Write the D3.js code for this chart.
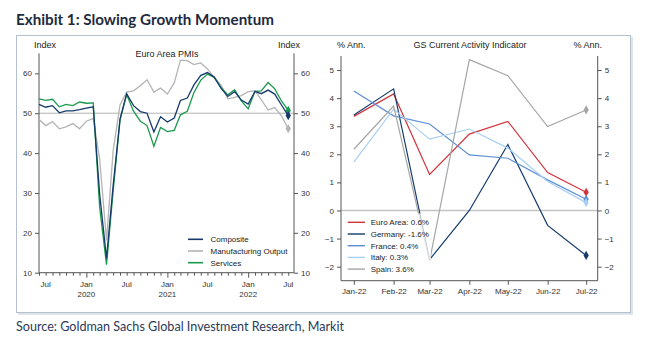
<!DOCTYPE html>
<html><head><meta charset="utf-8">
<script src="https://cdn.jsdelivr.net/npm/d3@7"></script>
<style>body{margin:0;background:#fff}svg{display:block}</style>
</head><body><div id="c"></div>
<script>
// ---------- data ----------
const pmiStart = [2019, 5]; // Jun 2019 (month index 0-based)
const composite = [52.2,51.5,51.9,50.1,50.6,50.6,50.9, 51.3,51.6,29.7,13.6,31.9,48.5,54.9,51.9,50.4,50.0,45.3,49.1, 47.8,48.8,53.2,53.8,57.1,59.5,60.2,59.0,56.2,54.2,55.4,53.3, 52.3,55.5,54.9,55.8,54.8,52.0,49.4];
const mfgOutput = [48.5,46.9,47.9,46.1,46.6,47.4,46.1, 48.0,48.7,38.5,18.1,40.6,52.1,55.3,55.6,56.9,58.4,55.3,56.3, 54.8,57.6,63.3,63.2,62.2,62.6,61.1,59.0,57.0,53.6,54.0,54.4, 55.4,55.6,53.4,50.8,51.4,49.3,46.1];
const services = [53.6,53.2,53.5,51.6,52.2,51.9,52.8, 52.5,52.6,26.4,12.0,30.5,48.3,54.7,50.5,48.0,46.9,41.7,46.4, 45.4,45.7,49.6,50.5,55.2,58.3,59.8,59.0,56.4,54.6,55.9,53.1, 51.1,55.5,55.6,57.7,56.1,53.0,50.7];
const pmiTicks = [10,20,30,40,50,60];

const caiMonths = ["Jan-22","Feb-22","Mar-22","Apr-22","May-22","Jun-22","Jul-22"];
const euroArea = [3.35,4.15,1.28,2.72,3.17,1.35,0.65];
const germany  = [3.40,4.33,-1.75,0.0,2.35,-0.53,-1.60];
const france   = [4.25,3.37,3.08,1.98,1.86,1.09,0.40];
const italy    = [1.72,3.61,2.54,2.90,2.22,1.03,0.28];
const spain    = [2.18,3.72,-1.80,5.37,4.80,2.99,3.58];
const caiLabels = ["Euro Area: 0.6%","Germany: -1.6%","France: 0.4%","Italy: 0.3%","Spain: 3.6%"];
const caiTicks = [-2,-1,0,1,2,3,4,5];

// ---------- setup ----------
const W=652,H=357;
const svg=d3.select("#c").append("svg").attr("width",W).attr("height",H)
  .style("font-family","'Liberation Sans',Arial,sans-serif");
svg.append("rect").attr("width",W).attr("height",H).attr("fill","#fff");

// title
svg.append("text").attr("x",16).attr("y",25).text("Exhibit 1: Slowing Growth Momentum")
  .attr("font-family","Lato,'Open Sans',sans-serif").attr("font-weight","bold").attr("font-size",16)
  .attr("fill","#1e2a40").attr("textLength",258).attr("lengthAdjust","spacingAndGlyphs");

// frame with shadow
svg.append("rect").attr("x",18).attr("y",37).attr("width",615).attr("height",278).attr("fill","#c9d1dc").attr("opacity",0.6);
svg.append("rect").attr("x",16.5).attr("y",35.5).attr("width",614).attr("height",277).attr("fill","#fff").attr("stroke","#b4c0cf").attr("stroke-width",1);

// source
svg.append("text").attr("x",16).attr("y",331).text("Source: Goldman Sachs Global Investment Research, Markit")
  .attr("font-family","Lato,'Open Sans',sans-serif").attr("font-size",13)
  .attr("fill","#2a3a58").attr("textLength",328).attr("lengthAdjust","spacingAndGlyphs");

const axisCol="#555", txtCol="#333";

// ---------- left chart ----------
const L=svg.append("g");
const x1=d3.scaleTime().domain([new Date(2019,5,1),new Date(2022,6,27)]).range([39,294]);
const y1=d3.scaleLinear().domain([10,65]).range([272.7,53.4]);
const dates1=composite.map((d,i)=>new Date(pmiStart[0],pmiStart[1]+i,1));

// 50 line
L.append("line").attr("x1",39).attr("x2",294).attr("y1",y1(50)).attr("y2",y1(50)).attr("stroke","#b3b3b3").attr("stroke-width",1);

const axL=L.append("g").attr("transform","translate(39,0)").call(d3.axisLeft(y1).tickValues(pmiTicks).tickSize(4).tickPadding(3));
const axR=L.append("g").attr("transform","translate(294,0)").call(d3.axisRight(y1).tickValues(pmiTicks).tickSize(4).tickPadding(3));
// x axis with monthly ticks
const months1=d3.timeMonth.range(new Date(2019,5,1),new Date(2022,7,1));
const axB=L.append("g").attr("transform",`translate(0,${y1(10)})`)
  .call(d3.axisBottom(x1).tickValues(months1).tickSize(3).tickFormat(d=>""));
axB.selectAll(".tick line").attr("y2",d=>d.getMonth()===0?5:3);
[axL,axR,axB].forEach(a=>{a.selectAll("path,line").attr("stroke",axisCol);a.selectAll("text").attr("fill",txtCol).attr("font-size",8).attr("font-family","'Liberation Sans',Arial,sans-serif");});
axB.select(".domain").attr("d",`M39,0H294`);
axL.select(".domain").attr("d",`M0,${y1(65)}V${y1(10)}`);
axR.select(".domain").attr("d",`M0,${y1(65)}V${y1(10)}`);
// month labels
const lab1=months1.filter(d=>d.getMonth()===0||d.getMonth()===6);
L.selectAll(".ml").data(lab1).enter().append("text").attr("x",d=>x1(d)).attr("y",286.5)
  .attr("text-anchor","middle").attr("font-size",8).attr("fill",txtCol).text(d=>d.getMonth()===0?"Jan":"Jul");
L.selectAll(".yl").data(lab1.filter(d=>d.getMonth()===0)).enter().append("text").attr("x",d=>x1(d)).attr("y",296.5)
  .attr("text-anchor","middle").attr("font-size",8).attr("fill",txtCol).text(d=>d.getFullYear());

L.append("text").attr("x",34).attr("y",48).attr("font-size",9).attr("fill","#222").text("Index");
L.append("text").attr("x",300).attr("y",48).attr("text-anchor","end").attr("font-size",9).attr("fill","#222").text("Index");
L.append("text").attr("x",167).attr("y",57).attr("text-anchor","middle").attr("font-size",9).attr("fill","#222").text("Euro Area PMIs");

const ser1=[{v:mfgOutput,c:"#b4b4b4",n:"Manufacturing Output"},{v:services,c:"#1b9a4e",n:"Services"},{v:composite,c:"#163a6b",n:"Composite"}];
const line1=d3.line().x((d,i)=>x1(dates1[i])).y(d=>y1(d));
ser1.forEach(s=>{
  L.append("path").datum(s.v).attr("d",line1).attr("fill","none").attr("stroke",s.c).attr("stroke-width",1.3);
  const n=s.v.length-1;
  L.append("path").attr("d",d3.symbol(d3.symbolDiamond,24)()).attr("transform",`translate(${x1(dates1[n])},${y1(s.v[n])})`).attr("fill",s.c);
});
// legend left
const leg1=[{c:"#163a6b",n:"Composite"},{c:"#b4b4b4",n:"Manufacturing Output"},{c:"#1b9a4e",n:"Services"}];
leg1.forEach((d,i)=>{
  const yy=239.3+i*11.7;
  L.append("line").attr("x1",188).attr("x2",203).attr("y1",yy).attr("y2",yy).attr("stroke",d.c).attr("stroke-width",1.6);
  L.append("text").attr("x",210.5).attr("y",yy+3).attr("font-size",8).attr("fill","#222").text(d.n);
});

// ---------- right chart ----------
const R=svg.append("g");
const dates2=caiMonths.map((m,i)=>new Date(2022,i,1));
const x2=d3.scaleTime().domain([new Date(2021,11,22),new Date(2022,6,10)]).range([341,597.7]);
const y2=d3.scaleLinear().domain([-2.5,5.5]).range([280.7,56]);

R.append("line").attr("x1",341).attr("x2",597.7).attr("y1",y2(0)).attr("y2",y2(0)).attr("stroke","#c4c4c4").attr("stroke-width",1.6);
const bxL=R.append("g").attr("transform","translate(341,0)").call(d3.axisLeft(y2).tickValues(caiTicks).tickSize(4).tickPadding(3).tickFormat(d3.format("d")));
const bxR=R.append("g").attr("transform","translate(597.7,0)").call(d3.axisRight(y2).tickValues(caiTicks).tickSize(4).tickPadding(3).tickFormat(d3.format("d")));
const bxB=R.append("g").attr("transform",`translate(0,280.7)`).call(d3.axisBottom(x2).tickValues(dates2).tickSize(4).tickPadding(4).tickFormat((d,i)=>caiMonths[i]));
[bxL,bxR,bxB].forEach(a=>{a.selectAll("path,line").attr("stroke",axisCol);a.selectAll("text").attr("fill",txtCol).attr("font-size",8).attr("font-family","'Liberation Sans',Arial,sans-serif");});
bxB.select(".domain").attr("d","M341,0H597.7");
bxL.select(".domain").attr("d",`M0,${y2(5.5)}V${y2(-2.5)}`);
bxR.select(".domain").attr("d",`M0,${y2(5.5)}V${y2(-2.5)}`);

R.append("text").attr("x",337).attr("y",48).attr("font-size",9).attr("fill","#222").text("% Ann.");
R.append("text").attr("x",602).attr("y",48).attr("text-anchor","end").attr("font-size",9).attr("fill","#222").text("% Ann.");
R.append("text").attr("x",470).attr("y",48).attr("text-anchor","middle").attr("font-size",9).attr("fill","#222").text("GS Current Activity Indicator");

const ser2=[{v:euroArea,c:"#d2343c"},{v:germany,c:"#143c6e"},{v:france,c:"#5b8fd4"},{v:italy,c:"#a8d0f4"},{v:spain,c:"#a6a6a6"}];
const line2=d3.line().x((d,i)=>x2(dates2[i])).y(d=>y2(d));
ser2.forEach(s=>{
  R.append("path").datum(s.v).attr("d",line2).attr("fill","none").attr("stroke",s.c).attr("stroke-width",1.2);
});
// legend background (semi-transparent)
R.append("rect").attr("x",343).attr("y",213.5).attr("width",88).attr("height",63).attr("fill","#fff").attr("opacity",0.7);
ser2.forEach(s=>{
  const n=s.v.length-1;
  R.append("path").attr("d",d3.symbol(d3.symbolDiamond,24)()).attr("transform",`translate(${x2(dates2[n])},${y2(s.v[n])})`).attr("fill",s.c);
});
caiLabels.forEach((t,i)=>{
  const yy=222.3+i*11.7;
  R.append("line").attr("x1",347.7).attr("x2",365).attr("y1",yy).attr("y2",yy).attr("stroke",ser2[i].c).attr("stroke-width",1.4);
  R.append("text").attr("x",370.7).attr("y",yy+3).attr("font-size",8).attr("fill","#222").text(t);
});
</script></body></html>
